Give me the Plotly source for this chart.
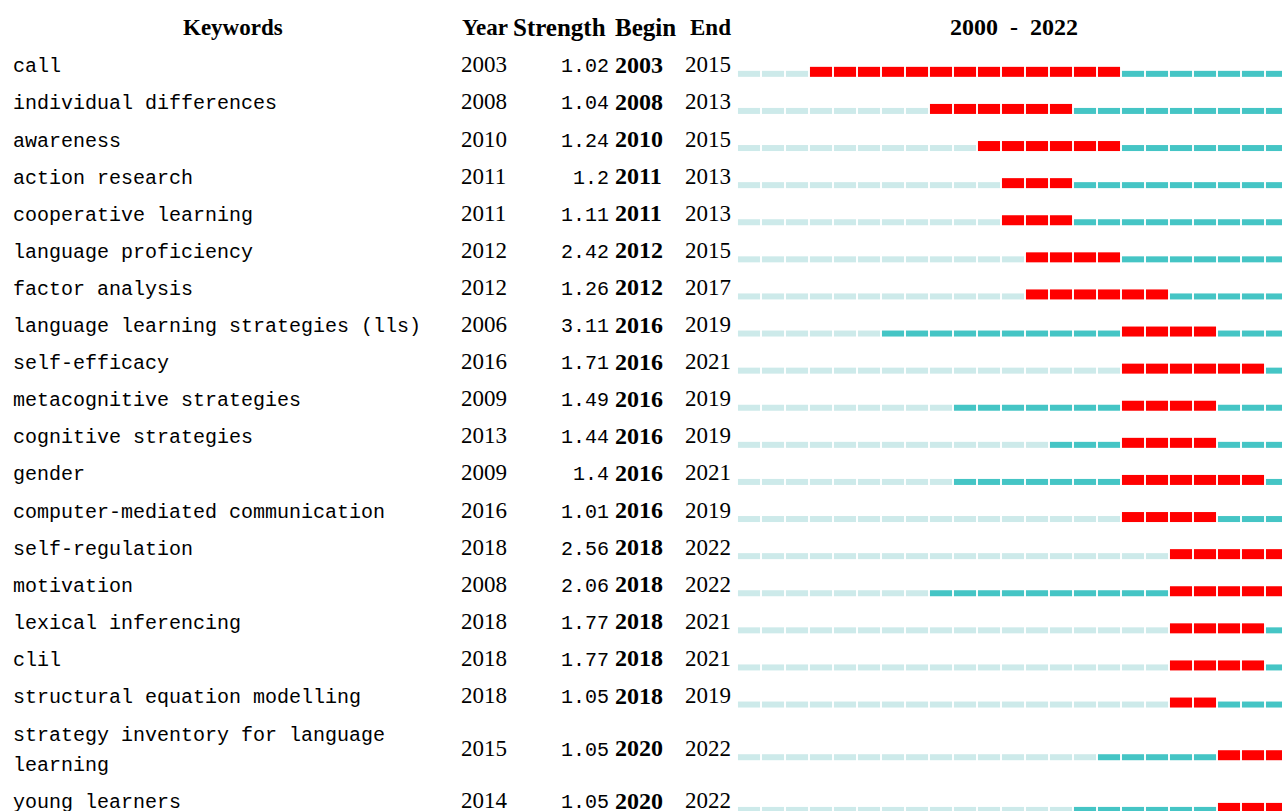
import plotly.graph_objects as go

# ---------------- data ----------------
keywords = [
    "call", "individual differences", "awareness", "action research",
    "cooperative learning", "language proficiency", "factor analysis",
    "language learning strategies (lls)", "self-efficacy",
    "metacognitive strategies", "cognitive strategies", "gender",
    "computer-mediated communication", "self-regulation", "motivation",
    "lexical inferencing", "clil", "structural equation modelling",
    "strategy inventory for language\nlearning", "young learners",
]
years = [2003, 2008, 2010, 2011, 2011, 2012, 2012, 2006, 2016, 2009,
         2013, 2009, 2016, 2018, 2008, 2018, 2018, 2018, 2015, 2014]
strengths = ["1.02", "1.04", "1.24", "1.2", "1.11", "2.42", "1.26", "3.11",
             "1.71", "1.49", "1.44", "1.4", "1.01", "2.56", "2.06", "1.77",
             "1.77", "1.05", "1.05", "1.05"]
begins = [2003, 2008, 2010, 2011, 2011, 2012, 2012, 2016, 2016, 2016,
          2016, 2016, 2016, 2018, 2018, 2018, 2018, 2018, 2020, 2020]
ends = [2015, 2013, 2015, 2013, 2013, 2015, 2017, 2019, 2021, 2019,
        2019, 2021, 2019, 2022, 2022, 2021, 2021, 2019, 2022, 2022]
span_start, span_end = 2000, 2022

# ---------------- layout constants ----------------
W, H = 1282, 811
PX_2000 = 737.0      # pixel of left edge of the 2000 cell
PX_YEAR = 24.0       # pixels per year
ROW_PX = 37.1        # pixels per text line / row
HEADER_PX = 27.0     # pixel centre of header row
EXTRA_LINE = 0.84    # extra row height per additional text line

LIGHT = "#cdeaea"
TEAL = "#45c5c5"
RED = "#ff0000"
MONO = "Liberation Mono, Courier New, monospace"
SERIF = "Liberation Serif, Times New Roman, serif"
NB = "\u00a0"

x_range = [span_start - PX_2000 / PX_YEAR, span_start + (W - PX_2000) / PX_YEAR]
y_range = [(H - HEADER_PX) / ROW_PX, -HEADER_PX / ROW_PX]

def xp(px):
    return px / W

# row centres
heights = [1 + EXTRA_LINE * (k.count("\n")) for k in keywords]
centers = []
c = 1.02
for i, h in enumerate(heights):
    if i > 0:
        c += (heights[i - 1] + h) / 2
    centers.append(c)

THIN = 6 / ROW_PX
THICK = 10 / ROW_PX
BOTTOM = 12 / ROW_PX

seg = {"light": ([], [], []), "teal": ([], [], []), "red": ([], [], [])}
for i in range(len(keywords)):
    for yr in range(span_start, span_end + 1):
        if begins[i] <= yr <= ends[i]:
            st, th = "red", THICK
        elif yr < years[i]:
            st, th = "light", THIN
        else:
            st, th = "teal", THIN
        seg[st][0].append(yr + 0.04)
        seg[st][1].append(centers[i] + BOTTOM - th / 2)
        seg[st][2].append(th)

fig = go.Figure()
for st, col in [("light", LIGHT), ("teal", TEAL), ("red", RED)]:
    base, yy, ww = seg[st]
    fig.add_trace(go.Bar(
        orientation="h", base=base, x=[0.92] * len(base), y=yy, width=ww,
        marker=dict(color=col, line=dict(width=0)), hoverinfo="skip",
        showlegend=False,
    ))

ann = []
def add(text, px, y, anchor="left", font=MONO, size=20, bold=False, yshift=0):
    ann.append(dict(
        text=f"<b>{text}</b>" if bold else text, x=xp(px), xref="paper",
        y=y, yref="y", xanchor=anchor, yanchor="middle", showarrow=False,
        yshift=yshift, font=dict(family=font, size=size, color="#000"),
    ))

# header
add("Keywords", 233, 0, anchor="center", font=SERIF, size=23, bold=True)
add("Year", 460, 0, font=SERIF, size=23, bold=True)
add("Strength", 511, 0, font=SERIF, size=25, bold=True)
add("Begin", 613, 0, font=SERIF, size=25, bold=True)
add("End", 688, 0, font=SERIF, size=23, bold=True)
add(f"{span_start}{NB}{NB}-{NB}{NB}{span_end}", 1014, 0, anchor="center",
    font=SERIF, size=24, bold=True)

for i, k in enumerate(keywords):
    lines = k.split("\n")
    n = len(lines)
    for j, ln in enumerate(lines):
        add(ln, 11, centers[i], yshift=-(j - (n - 1) / 2) * 30 - 2)
    add(str(years[i]), 459, centers[i], font=SERIF, size=23)
    add(strengths[i], 611, centers[i], anchor="right", yshift=-2)
    add(str(begins[i]), 613, centers[i], font=SERIF, size=24, bold=True)
    add(str(ends[i]), 683, centers[i], font=SERIF, size=23)

fig.update_layout(
    width=W, height=H, margin=dict(l=0, r=0, t=0, b=0),
    paper_bgcolor="white", plot_bgcolor="white", barmode="overlay",
    xaxis=dict(range=x_range, visible=False, fixedrange=True),
    yaxis=dict(range=y_range, visible=False, fixedrange=True),
    annotations=ann, showlegend=False,
)

fig.write_html(
    "out.html",
    config={"displayModeBar": False},
    post_script="document.body.style.margin='0';document.body.style.overflow='hidden';",
)
